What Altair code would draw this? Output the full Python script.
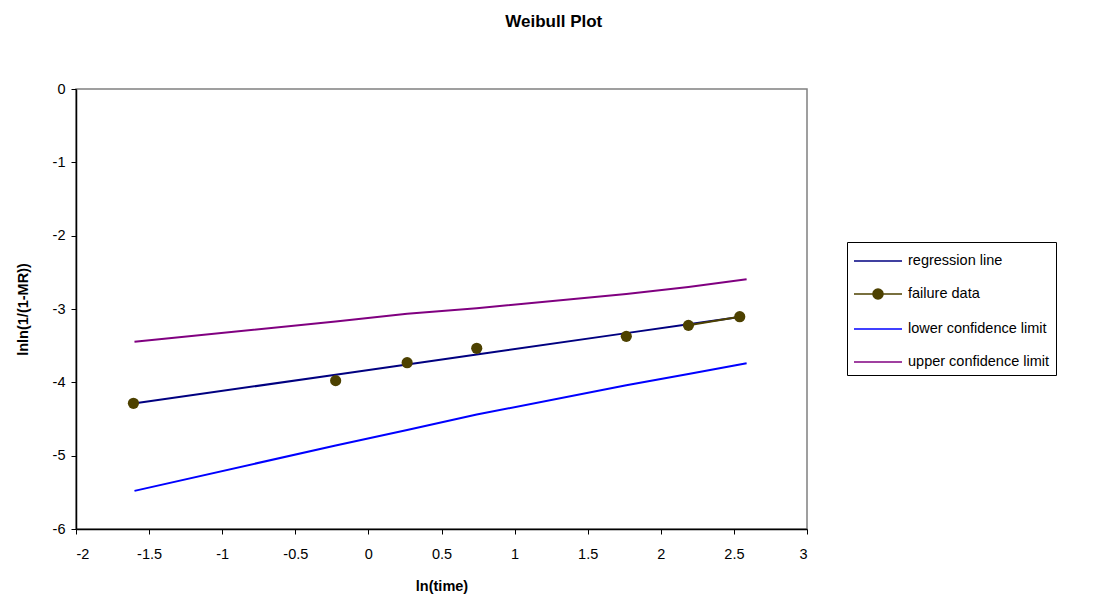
import altair as alt
import pandas as pd

# ---- data ----
series_names = ["regression line", "failure data", "lower confidence limit", "upper confidence limit"]
series_colors = ["#000080", "#4D4100", "#0000FF", "#800080"]

ln_time = [-1.607, -0.224, 0.265, 0.741, 1.764, 2.189, 2.540]
failure_y = [-4.286, -3.977, -3.732, -3.536, -3.373, -3.223, -3.105]
regression_y = [-4.290, -3.896, -3.756, -3.621, -3.329, -3.208, -3.108]

limit_x = [-1.600, -0.224, 0.265, 0.741, 1.764, 2.189, 2.587]
lower_y = [-5.48, -4.86, -4.65, -4.44, -4.04, -3.886, -3.74]
upper_y = [-3.446, -3.17, -3.064, -2.99, -2.796, -2.70, -2.595]

x_ticks = [-2, -1.5, -1, -0.5, 0, 0.5, 1, 1.5, 2, 2.5, 3]
y_ticks = [-6, -5, -4, -3, -2, -1, 0]

# ---- tables ----
rows = []
for i, (x, y) in enumerate(zip(ln_time, regression_y)):
    rows.append({"x": x, "y": y, "series": "regression line", "i": i})
for i, (x, y) in enumerate(zip(limit_x, lower_y)):
    rows.append({"x": x, "y": y, "series": "lower confidence limit", "i": i})
for i, (x, y) in enumerate(zip(limit_x, upper_y)):
    rows.append({"x": x, "y": y, "series": "upper confidence limit", "i": i})
# the failure-data line is only visible between the last two points
for i, (x, y) in enumerate(zip(ln_time[-2:], failure_y[-2:])):
    rows.append({"x": x, "y": y, "series": "failure data", "i": i})
lines_df = pd.DataFrame(rows)

points_df = pd.DataFrame({"x": ln_time, "y": failure_y})
legend_df = pd.DataFrame({"series": series_names})

FONT = "Liberation Sans"

x_scale = alt.Scale(domain=[-2, 3], nice=False, zero=False)
y_scale = alt.Scale(domain=[-6, 0], nice=False, zero=False)
color_scale = alt.Scale(domain=series_names, range=series_colors)

x_axis = alt.Axis(values=x_ticks, title="ln(time)", labelExpr="'' + datum.value",
                  grid=False, labelPadding=13, titlePadding=19)
y_axis = alt.Axis(values=y_ticks, title="lnln(1/(1-MR))", labelExpr="'' + datum.value",
                  grid=False, labelPadding=6, titlePadding=22)

lines = alt.Chart(lines_df).mark_line(strokeWidth=2).encode(
    x=alt.X("x:Q", scale=x_scale, axis=x_axis),
    y=alt.Y("y:Q", scale=y_scale, axis=y_axis),
    color=alt.Color("series:N", scale=color_scale, legend=None),
    order="i:Q",
)

points = alt.Chart(points_df).mark_circle(size=125, color="#4D4100", opacity=1).encode(
    x="x:Q", y="y:Q"
)

line_path = "M-2,0H2"
dot_path = "M-2,0H2M0.42,0A0.42,0.42,0,1,1,-0.42,0A0.42,0.42,0,1,1,0.42,0Z"
shape_paths = [line_path, dot_path, line_path, line_path]

leg = alt.Legend(title=None, orient="none", legendX=771, legendY=153,
                 strokeColor="black", fillColor="white", padding=6,
                 labelFont=FONT, labelFontSize=14.5, labelColor="black",
                 rowPadding=13, symbolSize=576, symbolOffset=12, labelOffset=17,
                 labelLimit=400)

legend_layer = alt.Chart(legend_df).mark_point(
    filled=True, size=576, strokeWidth=2, opacity=1, clip=True
).encode(
    x=alt.value(-500),
    y=alt.value(-500),
    fill=alt.Fill("series:N", scale=alt.Scale(domain=series_names, range=series_colors), legend=leg),
    stroke=alt.Stroke("series:N", scale=alt.Scale(domain=series_names, range=series_colors), legend=leg),
    shape=alt.Shape("series:N", scale=alt.Scale(domain=series_names, range=shape_paths), legend=leg),
)

chart = alt.layer(lines, points, legend_layer).resolve_scale(
    color="independent"
).properties(
    width=731,
    height=440,
    autosize=alt.AutoSizeParams(type="none"),
    padding={"left": 68, "top": 81, "right": 281, "bottom": 68},
    title=alt.TitleParams("Weibull Plot", anchor="middle", frame="bounds",
                          font=FONT, fontSize=17, fontWeight="bold", offset=50, dx=18),
    background="white",
).configure_view(
    stroke="#808080", strokeWidth=1.5
).configure_axis(
    domainColor="black", domainWidth=1.5, tickColor="black", tickSize=5,
    labelFont=FONT, labelFontSize=14.5, labelColor="black",
    titleFont=FONT, titleFontSize=14.5, titleFontWeight="bold", titleColor="black",
)

chart.save("out.html", embed_options={"renderer": "svg", "actions": False})
